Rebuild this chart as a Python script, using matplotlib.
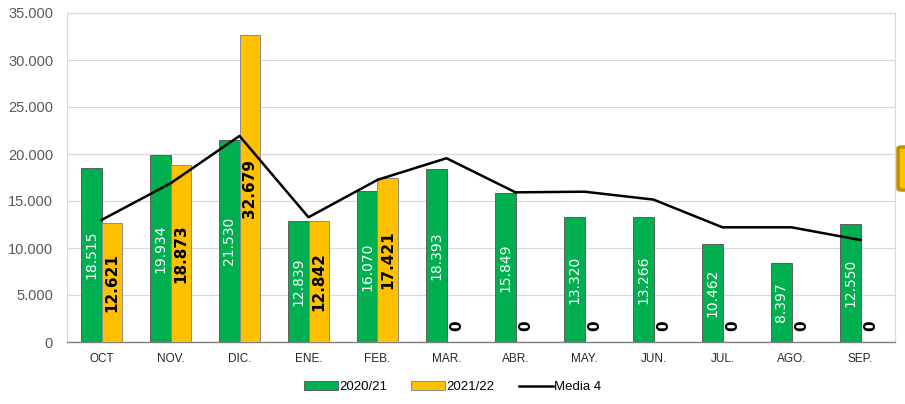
import numpy as np
import matplotlib
matplotlib.use('Agg')
import matplotlib.pyplot as plt
from matplotlib.patches import Patch, FancyBboxPatch
from matplotlib.lines import Line2D
from matplotlib.ticker import FuncFormatter

# ── data ──
months = ['OCT', 'NOV.', 'DIC.', 'ENE.', 'FEB.', 'MAR.',
          'ABR.', 'MAY.', 'JUN.', 'JUL.', 'AGO.', 'SEP.']
s2020 = [18515, 19934, 21530, 12839, 16070, 18393,
         15849, 13320, 13266, 10462, 8397, 12550]
s2021 = [12621, 18873, 32679, 12842, 17421, 0,
         0, 0, 0, 0, 0, 0]
media4 = [12980, 16880, 21920, 13270, 17250, 19550,
          15920, 15990, 15150, 12200, 12200, 10850]

GREEN = '#00B050'
YELLOW = '#FFC000'

fig = plt.figure(figsize=(9.05, 4.04), dpi=100)
ax = fig.add_axes([67/905, 1 - 342/404, (895 - 67)/905, (342 - 13)/404])

x = np.arange(len(months))
w = 0.29
b1 = ax.bar(x - w/2, s2020, w, color=GREEN, edgecolor='#5f5f5f', lw=0.7, zorder=3)
b2 = ax.bar(x + w/2, s2021, w, color=YELLOW, edgecolor='#8c8c8c', lw=0.7, zorder=3)
ax.plot(x, media4, color='black', lw=1.8, zorder=4)

fmt = lambda v: f'{v:,.0f}'.replace(',', '.')

for xi, v in zip(x, s2020):
    ax.text(xi - w/2, v/2, fmt(v), rotation=90, ha='center', va='center',
            color='white', fontsize=10, family='DejaVu Sans', zorder=5)
for xi, v in zip(x, s2021):
    if v > 0:
        ax.text(xi + w/2, v/2, fmt(v), rotation=90, ha='center', va='center',
                color='black', fontsize=11, fontweight='bold',
                family='DejaVu Sans', zorder=5)
    else:
        ax.annotate('0', (xi + w/2, 0), xytext=(0, 8), textcoords='offset points',
                    rotation=90, ha='center', va='bottom', color='black',
                    fontsize=11, fontweight='bold', family='DejaVu Sans', zorder=5)

ax.set_xlim(-0.5, len(months) - 0.5)
ax.set_ylim(0, 35000)
ax.set_yticks(np.arange(0, 35001, 5000))
ax.yaxis.set_major_formatter(FuncFormatter(lambda v, p: fmt(v)))
ax.set_xticks(x)
ax.set_xticklabels(months, family='Liberation Sans', fontsize=8.5, color='#262626')
for lab in ax.get_yticklabels():
    lab.set_family('Liberation Sans')
    lab.set_fontsize(10.5)
    lab.set_color('#595959')
ax.tick_params(axis='both', length=0, pad=8)
ax.tick_params(axis='y', pad=10)

ax.grid(axis='y', color='#d9d9d9', lw=0.9, zorder=0)
for s in ['left', 'right', 'top']:
    ax.spines[s].set_color('#d9d9d9')
ax.spines['bottom'].set_color('#808080')
ax.spines['bottom'].set_linewidth(1.0)

handles = [Patch(facecolor=GREEN, edgecolor='#5f5f5f', lw=0.7, label='2020/21'),
           Patch(facecolor=YELLOW, edgecolor='#8c8c8c', lw=0.7, label='2021/22'),
           Line2D([], [], color='black', lw=1.8, label='Media 4')]
fig.legend(handles=handles, loc='center', bbox_to_anchor=(0.5, 1 - 387/404),
           ncol=3, frameon=False, prop={'family': 'Liberation Sans', 'size': 9.5},
           handlelength=2.6, handleheight=0.6, columnspacing=1.8, handletextpad=0.1)

# yellow tab cut off at the right edge
tab = FancyBboxPatch((898/905, 1 - 190/404), 0.03, 43/404,
                     boxstyle='round,pad=0,rounding_size=0.004',
                     transform=fig.transFigure, facecolor=YELLOW,
                     edgecolor='#BF9000', lw=2.5)
fig.patches.append(tab)

fig.savefig('out.png', dpi=100)
